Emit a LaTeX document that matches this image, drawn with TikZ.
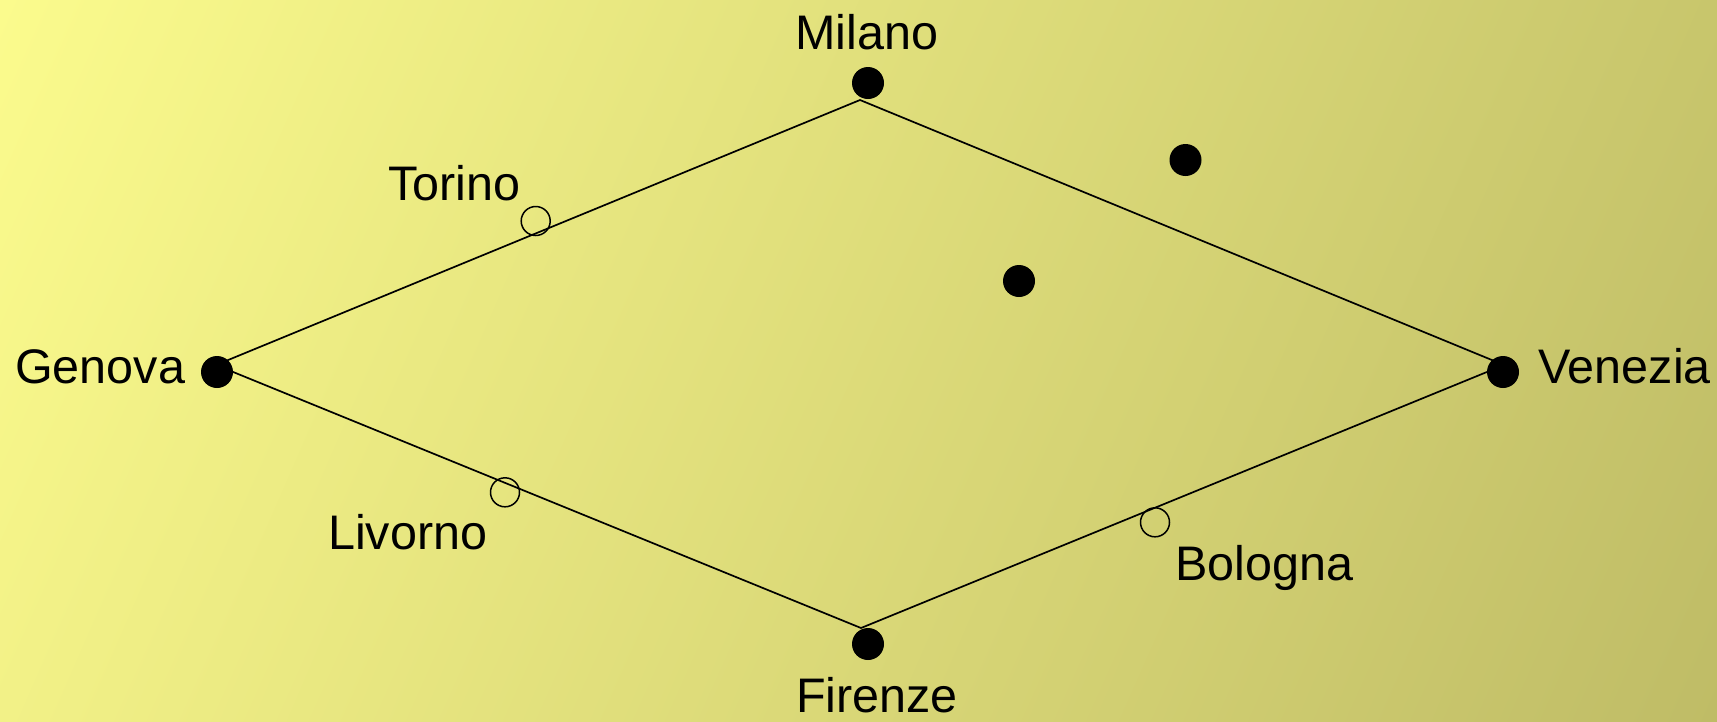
\documentclass[tikz,border=0pt]{standalone}
\usepackage{fontspec}
\setmainfont{Liberation Sans}
\usetikzlibrary{shadings}
\definecolor{bgA}{RGB}{251,251,141}
\definecolor{bgB}{RGB}{191,188,102}
\definecolor{bgUR}{RGB}{200,198,108}
\definecolor{bgLL}{RGB}{242,241,135}
\begin{document}
\begin{tikzpicture}[x=1pt,y=-1pt,
  city/.style={circle,fill=black,inner sep=0pt,minimum size=32pt},
  stop/.style={circle,draw=black,line width=1.5pt,inner sep=0pt,minimum size=29pt},
  road/.style={draw=black,line width=1.7pt},
  lbl/.style={inner sep=0pt,font=\fontsize{48.5}{52}\selectfont}]
\useasboundingbox (0,0) rectangle (1717,721);
\shade[upper left=bgA, lower right=bgB, upper right=bgUR, lower left=bgLL] (0,0) rectangle (1717,721);
% connection points
\coordinate (T) at (860,100);
\coordinate (L) at (216,365);
\coordinate (B) at (861,628);
\coordinate (R) at (1504,365);
\path[road] (L) -- (T) -- (R) -- (B) -- (L);
% cities
\node[city] (milano) at (868,83) {};
\node[city] (genova) at (217,372) {};
\node[city] (venezia) at (1503,372) {};
\node[city] (firenze) at (868,644) {};
\node[city] (p1) at (1185.5,160) {};
\node[city] (p2) at (1019,281) {};
% stops
\node[stop] (torino) at (535.7,221) {};
\node[stop] (livorno) at (505,492.3) {};
\node[stop] (bologna) at (1155,522.3) {};
% labels
\node[lbl,anchor=base] (lmilano) at (867,49) {Milano};
\node[lbl,anchor=base west] (lgenova) at (15,383) {Genova};
\node[lbl,anchor=base west] (lvenezia) at (1538,383) {Venezia};
\node[lbl,anchor=base] (lfirenze) at (877,712) {Firenze};
\node[lbl,anchor=base west] (ltorino) at (388,200) {Torino};
\node[lbl,anchor=base west] (llivorno) at (328,549) {Livorno};
\node[lbl,anchor=base west] (lbologna) at (1175,580) {Bologna};
\end{tikzpicture}
\end{document}
